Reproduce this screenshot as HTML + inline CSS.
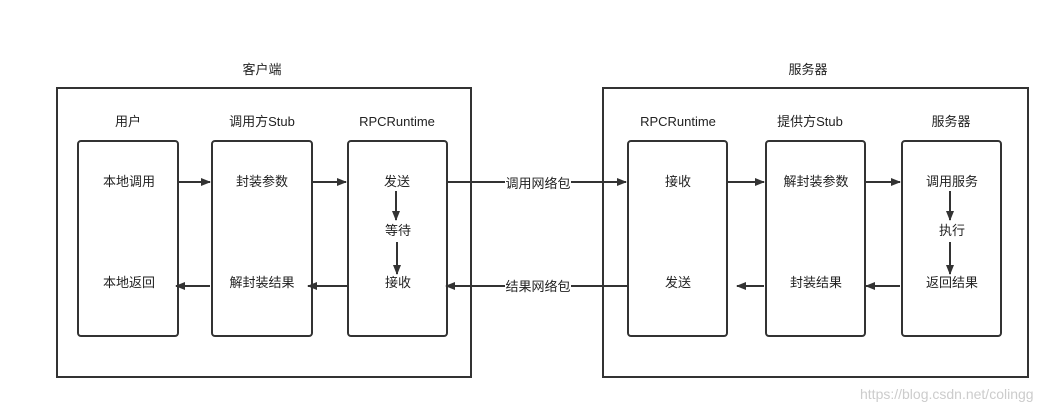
<!DOCTYPE html>
<html><head><meta charset="utf-8"><style>
html,body{margin:0;padding:0;background:#fff;width:1064px;height:410px;overflow:hidden}
svg text{font-family:"Liberation Sans","Noto Sans CJK SC",sans-serif;font-size:13px;fill:#222}
</style></head><body>
<svg width="1064" height="410" xmlns="http://www.w3.org/2000/svg">
<defs><marker id="a" markerWidth="10" markerHeight="8" refX="9" refY="4" orient="auto" markerUnits="userSpaceOnUse"><path d="M0,0 L10,4 L0,8 z" fill="#333"/></marker></defs>
<g fill="none" stroke="#333" stroke-width="2">
<rect x="57" y="88" width="414" height="289"/>
<rect x="603" y="88" width="425" height="289"/>
<rect x="78" y="141" width="100" height="195" rx="3"/>
<rect x="212" y="141" width="100" height="195" rx="3"/>
<rect x="348" y="141" width="99" height="195" rx="3"/>
<rect x="628" y="141" width="99" height="195" rx="3"/>
<rect x="766" y="141" width="99" height="195" rx="3"/>
<rect x="902" y="141" width="99" height="195" rx="3"/>
<line x1="178" y1="182" x2="210" y2="182" marker-end="url(#a)"/>
<line x1="312" y1="182" x2="346" y2="182" marker-end="url(#a)"/>
<line x1="447" y1="182" x2="626" y2="182" marker-end="url(#a)"/>
<line x1="727" y1="182" x2="764" y2="182" marker-end="url(#a)"/>
<line x1="865" y1="182" x2="900" y2="182" marker-end="url(#a)"/>
<line x1="210" y1="286" x2="176" y2="286" marker-end="url(#a)"/>
<line x1="348" y1="286" x2="308" y2="286" marker-end="url(#a)"/>
<line x1="628" y1="286" x2="446" y2="286" marker-end="url(#a)"/>
<line x1="764" y1="286" x2="737" y2="286" marker-end="url(#a)"/>
<line x1="900" y1="286" x2="866" y2="286" marker-end="url(#a)"/>
<line x1="396" y1="191" x2="396" y2="220" marker-end="url(#a)"/>
<line x1="397" y1="242" x2="397" y2="274" marker-end="url(#a)"/>
<line x1="950" y1="191" x2="950" y2="220" marker-end="url(#a)"/>
<line x1="950" y1="242" x2="950" y2="274" marker-end="url(#a)"/>
</g>
<rect x="505" y="174" width="66" height="16" fill="#fff"/>
<rect x="505" y="278" width="66" height="16" fill="#fff"/>
<g text-anchor="middle">
<text x="262" y="74">客户端</text>
<text x="808" y="74">服务器</text>
<text x="128" y="126">用户</text>
<text x="262" y="126">调用方Stub</text>
<text x="397" y="126">RPCRuntime</text>
<text x="678" y="126">RPCRuntime</text>
<text x="810" y="126">提供方Stub</text>
<text x="951" y="126">服务器</text>
<text x="129" y="186">本地调用</text>
<text x="129" y="287">本地返回</text>
<text x="262" y="186">封装参数</text>
<text x="262" y="287">解封装结果</text>
<text x="397" y="186">发送</text>
<text x="398" y="235">等待</text>
<text x="398" y="287">接收</text>
<text x="538" y="188">调用网络包</text>
<text x="538" y="291">结果网络包</text>
<text x="678" y="186">接收</text>
<text x="678" y="287">发送</text>
<text x="816" y="186">解封装参数</text>
<text x="816" y="287">封装结果</text>
<text x="952" y="186">调用服务</text>
<text x="952" y="235">执行</text>
<text x="952" y="287">返回结果</text>
</g>
<text x="860" y="399" style="font-size:14px;fill:#ccc">https://blog.csdn.net/colingg</text>
</svg>
</body></html>
